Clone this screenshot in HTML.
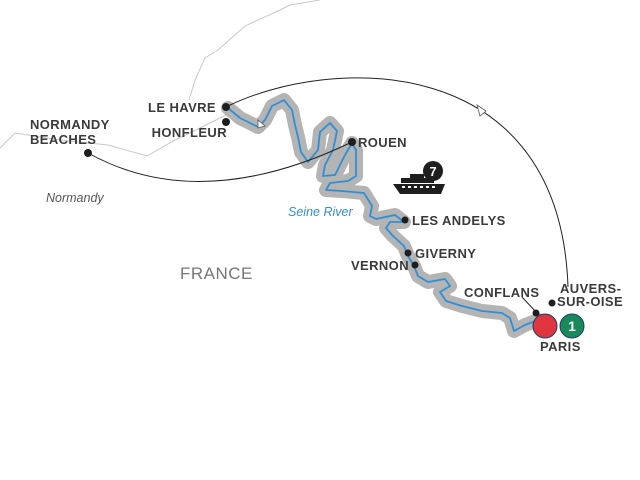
<!DOCTYPE html>
<html><head><meta charset="utf-8"><style>
html,body{margin:0;padding:0;background:#fff;}
svg{display:block}
.l{font-family:"Liberation Sans",sans-serif;font-weight:bold;font-size:13px;fill:#3a3a3a;letter-spacing:0.4px}
</style></head><body>
<svg width="640" height="480" viewBox="0 0 640 480">
<path d="M320,0 L290,5 L280,10 L245,26 L218,50 L205,58 L195,80 L189,100" fill="none" stroke="#c8c8c8" stroke-width="1"/>
<path d="M226,115 L200,128 L175,140 L147,156 L108,145 L60,140 L15,133 L0,148" fill="none" stroke="#c8c8c8" stroke-width="1"/>
<g fill="none" stroke-linejoin="round" stroke-linecap="round">
<path d="M228,108 L240,118 L258,127 L265,120 L272,106 L284,100 L292,110 L295,125 L298,137 L301,152 L308,162 L318,150 L320,132 L330,123 L337,131 L333,150 L325,165 L323,176 L335,175 L345,155 L352,143 L356,150 L356,176 L348,181 L330,183 L326,190 L342,191 L364,193 L372,206 L370,216 L376,219 L395,215 L404,222 L390,222 L386,228 L393,236 L404,246 L408,256 L414,266 L418,276 L428,282 L445,279 L450,286 L440,292 L446,301 L462,306 L482,311 L502,313 L510,318 L514,331 L525,325 L538,320" stroke="#b4b4b4" stroke-width="14"/>
<path d="M228,108 L240,118 L258,127 L265,120 L272,106 L284,100 L292,110 L295,125 L298,137 L301,152 L308,162 L318,150 L320,132 L330,123 L337,131 L333,150 L325,165 L323,176 L335,175 L345,155 L352,143 L356,150 L356,176 L348,181 L330,183 L326,190 L342,191 L364,193 L372,206 L370,216 L376,219 L395,215 L404,222 L390,222 L386,228 L393,236 L404,246 L408,256 L414,266 L418,276 L428,282 L445,279 L450,286 L440,292 L446,301 L462,306 L482,311 L502,313 L510,318 L514,331 L525,325 L538,320" stroke="#2f8fd6" stroke-width="1.8"/>
</g>
<path d="M226,107 C330,55 560,50 568,287" fill="none" stroke="#222" stroke-width="1"/>
<path d="M88,153 Q200,215 352,142" fill="none" stroke="#222" stroke-width="1"/>
<path d="M477,105 L486,111 L480,116 Z" fill="#fff" stroke="#555" stroke-width="0.8"/>
<path d="M258,120 L265,126 L258,128 Z" fill="#fff" stroke="#555" stroke-width="0.8"/>
<line x1="522" y1="297" x2="536" y2="312" stroke="#222" stroke-width="1"/>
<g fill="#1e1e1e">
<circle cx="226" cy="107" r="4"/><circle cx="226" cy="122" r="4"/><circle cx="88" cy="153" r="4"/>
<circle cx="352" cy="142" r="4"/><circle cx="405" cy="220" r="3.5"/><circle cx="408" cy="253" r="3.5"/>
<circle cx="415" cy="265" r="3.5"/><circle cx="536" cy="313" r="3.5"/><circle cx="552" cy="303" r="3.5"/>
</g>
<circle cx="545" cy="326" r="12" fill="#e0343e" stroke="#1d3d6b" stroke-width="1"/>
<circle cx="572" cy="326" r="12" fill="#1a8a5a" stroke="#1d3d6b" stroke-width="1"/>
<text x="572" y="331" text-anchor="middle" font-family="Liberation Sans,sans-serif" font-weight="bold" font-size="14" fill="#fff">1</text>
<circle cx="433" cy="171" r="10" fill="#1e1e1e"/>
<text x="433" y="176" text-anchor="middle" font-family="Liberation Sans,sans-serif" font-weight="bold" font-size="13" fill="#fff">7</text>
<g fill="#1e1e1e">
<path d="M393,184 L445,184 L441,194 L400,194 Z"/>
<rect x="401" y="178" width="33" height="5"/>
<rect x="410" y="174" width="14" height="4"/>
</g>
<g fill="#fff"><rect x="402" y="186" width="3" height="2"/><rect x="408" y="186" width="3" height="2"/><rect x="414" y="186" width="3" height="2"/><rect x="420" y="186" width="3" height="2"/><rect x="426" y="186" width="3" height="2"/><rect x="432" y="186" width="3" height="2"/></g>
<text class="l" x="216" y="112" text-anchor="end">LE HAVRE</text>
<text class="l" x="227" y="137" text-anchor="end">HONFLEUR</text>
<text class="l" x="30" y="129">NORMANDY</text>
<text class="l" x="30" y="144">BEACHES</text>
<text class="l" x="358" y="147">ROUEN</text>
<text class="l" x="412" y="225">LES ANDELYS</text>
<text class="l" x="415" y="258">GIVERNY</text>
<text class="l" x="409" y="270" text-anchor="end">VERNON</text>
<text class="l" x="464" y="297">CONFLANS</text>
<text class="l" x="560" y="293">AUVERS-</text>
<text class="l" x="557" y="306">SUR-OISE</text>
<text class="l" x="540" y="351">PARIS</text>
<text x="46" y="202" font-family="Liberation Sans,sans-serif" font-style="italic" font-size="12.5" fill="#555">Normandy</text>
<text x="288" y="216" font-family="Liberation Sans,sans-serif" font-style="italic" font-size="12.5" fill="#2f8fd6">Seine River</text>
<text x="180" y="279" font-family="Liberation Sans,sans-serif" font-size="17" fill="#777" letter-spacing="0.5">FRANCE</text>
</svg>
</body></html>
